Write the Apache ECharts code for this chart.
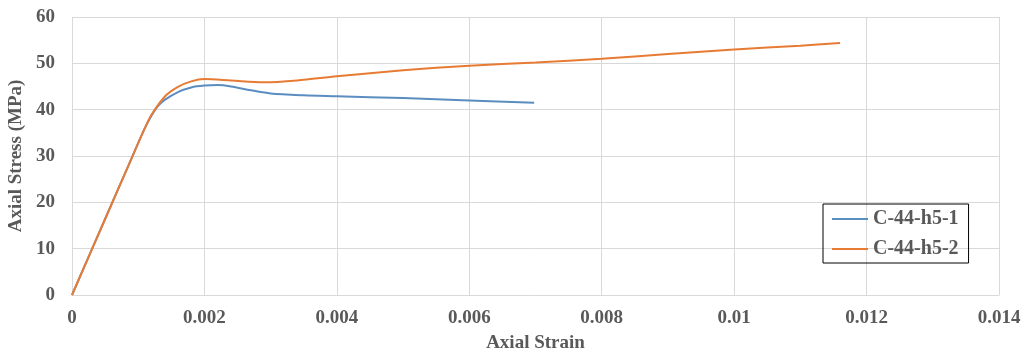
<!DOCTYPE html>
<html><head><meta charset="utf-8">
<script src="https://cdn.jsdelivr.net/npm/echarts@6/dist/echarts.min.js"></script>
<style>html,body{margin:0;padding:0;background:#fff}#c{width:1025px;height:353px}</style>
</head><body><div id="c"></div>
<script>
const seriesNames = ['C-44-h5-1', 'C-44-h5-2'];
const strain1 = [0, 0.0005, 0.0009, 0.0011, 0.0012, 0.0013, 0.0014, 0.0016, 0.0018, 0.002, 0.0022, 0.0024, 0.0027, 0.003, 0.0035, 0.004, 0.005, 0.006, 0.00698];
const stress1 = [0, 16.4, 29.5, 36.0, 38.7, 40.8, 42.1, 43.8, 44.8, 45.2, 45.3, 45.0, 44.2, 43.5, 43.1, 42.9, 42.5, 42.0, 41.5];
const strain2 = [0, 0.0005, 0.0009, 0.0011, 0.0012, 0.0014, 0.0016, 0.0018, 0.002, 0.0024, 0.0029, 0.0034, 0.004, 0.005, 0.006, 0.007, 0.008, 0.009, 0.01, 0.011, 0.0116];
const stress2 = [0, 16.4, 29.5, 36.0, 38.9, 42.8, 44.9, 46.1, 46.6, 46.3, 45.9, 46.3, 47.2, 48.5, 49.5, 50.2, 51.0, 52.0, 53.0, 53.8, 54.4];
const xTicks = [0, 0.002, 0.004, 0.006, 0.008, 0.01, 0.012, 0.014];
const yTicks = [0, 10, 20, 30, 40, 50, 60];

const font = 'Liberation Serif';
const txt = '#595959';
const chart = echarts.init(document.getElementById('c'));
chart.setOption({
  animation: false,
  grid: {left: 72, right: 26, top: 17, bottom: 58, containLabel: false, outerBoundsMode: 'none'},
  xAxis: {
    type: 'value', min: xTicks[0], max: xTicks[xTicks.length-1], interval: 0.002,
    name: 'Axial Strain', nameLocation: 'middle', nameGap: 39,
    nameTextStyle: {fontFamily: font, fontWeight: 'bold', fontSize: 19, color: txt},
    axisLine: {show: true, lineStyle: {color: '#d9d9d9'}},
    axisTick: {show: false},
    axisLabel: {fontFamily: font, fontWeight: 'bold', fontSize: 19, color: txt, margin: 14,
      formatter: v => String(parseFloat(v.toFixed(4)))},
    splitLine: {show: true, lineStyle: {color: '#d9d9d9'}}
  },
  yAxis: {
    type: 'value', min: yTicks[0], max: yTicks[yTicks.length-1], interval: 10,
    name: 'Axial Stress (MPa)', nameLocation: 'middle', nameGap: 44, nameRotate: 90,
    nameTextStyle: {fontFamily: font, fontWeight: 'bold', fontSize: 19, color: txt},
    axisLine: {show: false}, axisTick: {show: false},
    axisLabel: {fontFamily: font, fontWeight: 'bold', fontSize: 19, color: txt, margin: 17},
    splitLine: {show: true, lineStyle: {color: '#d9d9d9'}}
  },
  legend: {
    orient: 'vertical', left: 823, top: 204,
    padding: [5, 10, 4, 9], itemGap: 10, itemWidth: 36, itemHeight: 20,
    borderColor: '#000', borderWidth: 1,
    icon: 'path://M0,9 L36,9 L36,11 L0,11 Z',
    textStyle: {fontFamily: font, fontWeight: 'bold', fontSize: 20, color: txt},
    data: seriesNames
  },
  series: [
    {name: seriesNames[0], type: 'line', showSymbol: false, smooth: 0.3,
     color: '#5A8DC0', lineStyle: {width: 2},
     data: strain1.map((x, i) => [x, stress1[i]])},
    {name: seriesNames[1], type: 'line', showSymbol: false, smooth: 0.3,
     color: '#E87B33', lineStyle: {width: 2},
     data: strain2.map((x, i) => [x, stress2[i]])}
  ]
});
</script></body></html>
